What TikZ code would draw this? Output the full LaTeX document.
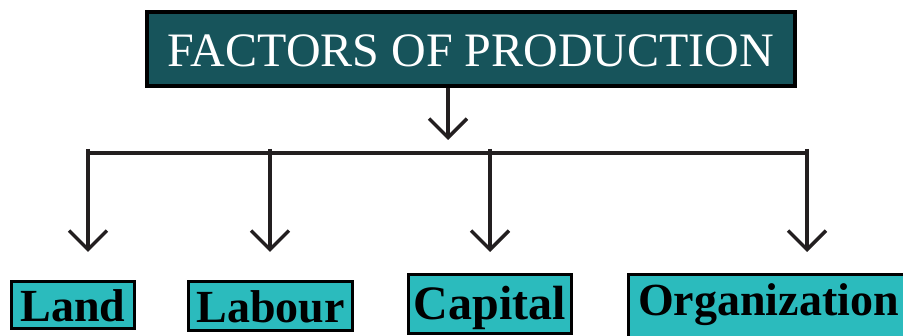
\documentclass[tikz,border=0pt]{standalone}
\usepackage{fontspec}
\setmainfont{Liberation Serif}
\usetikzlibrary{arrows.meta}
\definecolor{headteal}{RGB}{23,84,91}
\definecolor{leafteal}{RGB}{43,187,189}
\definecolor{inkline}{RGB}{35,31,32}
\tikzset{
	>={Straight Barb[length=19pt,width=38pt]}, % open v-shaped heads
	link/.style={color=inkline, line width=3.5pt}, % all connectors
	headbox/.style={draw=black, line width=4pt, fill=headteal, text=white, inner sep=0pt, anchor=base, font=\fontsize{48}{48}\selectfont},
	leafbox/.style={draw=black, line width=3pt, fill=leafteal, text=black, inner sep=0pt, anchor=base, font=\bfseries\fontsize{46}{46}\selectfont},
}

\begin{document}
\begin{tikzpicture}[x=1pt, y=-1pt]
		\useasboundingbox (0,0) rectangle (903,336);
		% Define boxes
		\node[headbox, minimum width=648pt, text height=55pt, text depth=19pt] (factors) at (471,67) {FACTORS OF PRODUCTION};
		\node[leafbox, minimum width=123pt, text height=40.5pt, text depth=6.5pt] (land) at (73,322) {Land};
		\node[leafbox, minimum width=164pt, text height=41.5pt, text depth=7.5pt] (labour) at (270.5,323) {Labour};
		\node[leafbox, minimum width=163pt, text height=45.5pt, text depth=13.5pt, font=\bfseries\fontsize{48}{48}\selectfont] (capital) at (490,320) {Capital};
		\node[leafbox, anchor=base west, inner xsep=10pt, text height=41pt, text depth=25pt] (organization) at (626.5,316) {Organization};
		
		% Points on the bus
		\coordinate (arrive) at (448,140);
		\coordinate (busL) at (88,153);
		\coordinate (busB) at (270,153);
		\coordinate (busC) at (490,153);
		\coordinate (busO) at (807,153);
		\coordinate (dropL) at (88,252);
		\coordinate (dropB) at (270,252);
		\coordinate (dropC) at (490,252);
		\coordinate (dropO) at (807,252);
		
		% Connectors
		\draw[link, ->] (factors.south -| arrive) -- (arrive);
		\draw[link] (busL) -- (busO);
		\path[link, ->]
		([yshift=4pt]busL) edge (dropL)
		([yshift=4pt]busB) edge (dropB)
		([yshift=4pt]busC) edge (dropC)
		([yshift=4pt]busO) edge (dropO);
	\end{tikzpicture}
\end{document}
